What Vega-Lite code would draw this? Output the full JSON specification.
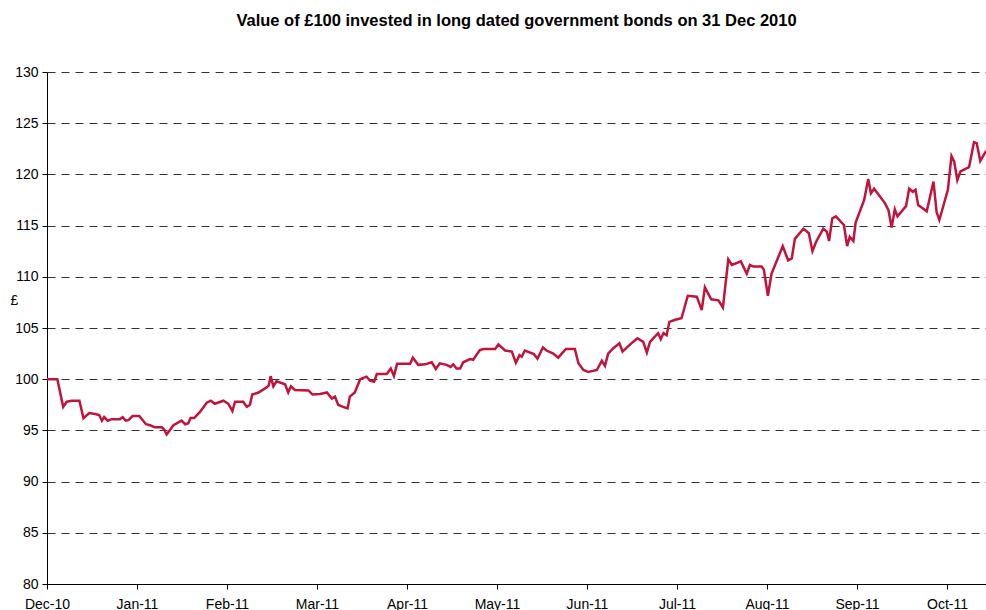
{
  "$schema": "https://vega.github.io/schema/vega-lite/v6.json",
  "autosize": {"type": "none"},
  "width": 939,
  "height": 512,
  "padding": {"left": 47, "top": 72, "right": 0, "bottom": 26},
  "background": "white",
  "title": {
    "text": "Value of £100 invested in long dated government bonds on 31 Dec 2010",
    "font": "Liberation Sans",
    "fontSize": 16.5,
    "fontWeight": "bold",
    "color": "#000000",
    "anchor": "middle",
    "offset": 36
  },
  "config": {
    "view": {"stroke": null},
    "axis": {"labelFont": "Liberation Sans", "titleFont": "Liberation Sans", "labelColor": "#000000", "titleColor": "#000000"}
  },
  "data": {
    "values": [
      {"day": 0, "value": 100.0},
      {"day": 2.3, "value": 100.0},
      {"day": 3.6, "value": 97.3},
      {"day": 4.4, "value": 97.8},
      {"day": 5.5, "value": 97.9},
      {"day": 7.2, "value": 97.9},
      {"day": 8.1, "value": 96.2},
      {"day": 9.4, "value": 96.7},
      {"day": 10.7, "value": 96.6},
      {"day": 11.6, "value": 96.5},
      {"day": 12.2, "value": 95.95},
      {"day": 12.7, "value": 96.3},
      {"day": 13.5, "value": 95.95},
      {"day": 14.4, "value": 96.1},
      {"day": 16.2, "value": 96.1},
      {"day": 16.8, "value": 96.3},
      {"day": 17.5, "value": 95.95},
      {"day": 18.1, "value": 96.0},
      {"day": 19.0, "value": 96.4},
      {"day": 20.5, "value": 96.4},
      {"day": 22.0, "value": 95.6},
      {"day": 22.9, "value": 95.5},
      {"day": 24.0, "value": 95.3},
      {"day": 25.5, "value": 95.3},
      {"day": 26.0, "value": 95.1},
      {"day": 26.6, "value": 94.6},
      {"day": 28.1, "value": 95.5},
      {"day": 29.9, "value": 95.95},
      {"day": 30.7, "value": 95.6},
      {"day": 31.4, "value": 95.7},
      {"day": 31.9, "value": 96.2},
      {"day": 32.7, "value": 96.2},
      {"day": 34.0, "value": 96.8},
      {"day": 35.5, "value": 97.7},
      {"day": 36.4, "value": 97.9},
      {"day": 37.3, "value": 97.6},
      {"day": 39.2, "value": 97.9},
      {"day": 40.3, "value": 97.6},
      {"day": 41.2, "value": 96.9},
      {"day": 41.8, "value": 97.8},
      {"day": 43.6, "value": 97.8},
      {"day": 44.4, "value": 97.3},
      {"day": 45.1, "value": 97.5},
      {"day": 45.6, "value": 98.5},
      {"day": 47.0, "value": 98.7},
      {"day": 48.8, "value": 99.2},
      {"day": 49.3, "value": 99.4},
      {"day": 49.7, "value": 100.3},
      {"day": 50.3, "value": 99.3},
      {"day": 51.0, "value": 99.8},
      {"day": 52.9, "value": 99.5},
      {"day": 53.6, "value": 98.7},
      {"day": 54.2, "value": 99.3},
      {"day": 55.1, "value": 98.95},
      {"day": 58.1, "value": 98.9},
      {"day": 59.0, "value": 98.5},
      {"day": 60.7, "value": 98.55},
      {"day": 62.2, "value": 98.7},
      {"day": 63.3, "value": 98.1},
      {"day": 64.0, "value": 98.3},
      {"day": 64.7, "value": 97.5},
      {"day": 65.8, "value": 97.3},
      {"day": 66.8, "value": 97.15},
      {"day": 67.3, "value": 98.3},
      {"day": 68.4, "value": 98.7},
      {"day": 69.6, "value": 100.0},
      {"day": 71.0, "value": 100.25},
      {"day": 71.8, "value": 99.85},
      {"day": 72.7, "value": 99.75},
      {"day": 73.3, "value": 100.5},
      {"day": 75.5, "value": 100.5},
      {"day": 76.4, "value": 101.05},
      {"day": 77.1, "value": 100.3},
      {"day": 77.8, "value": 101.5},
      {"day": 80.7, "value": 101.5},
      {"day": 81.3, "value": 102.1},
      {"day": 82.5, "value": 101.4},
      {"day": 84.0, "value": 101.45},
      {"day": 85.5, "value": 101.65},
      {"day": 86.4, "value": 101.0},
      {"day": 87.3, "value": 101.55},
      {"day": 88.8, "value": 101.4},
      {"day": 89.7, "value": 101.2},
      {"day": 90.3, "value": 101.45},
      {"day": 91.0, "value": 101.05},
      {"day": 91.8, "value": 101.05},
      {"day": 92.5, "value": 101.65},
      {"day": 94.0, "value": 101.97},
      {"day": 94.7, "value": 101.9},
      {"day": 96.2, "value": 102.85},
      {"day": 97.0, "value": 102.95},
      {"day": 99.6, "value": 102.95},
      {"day": 100.3, "value": 103.4},
      {"day": 101.8, "value": 102.8},
      {"day": 103.3, "value": 102.7},
      {"day": 104.2, "value": 101.6},
      {"day": 105.0, "value": 102.35},
      {"day": 105.5, "value": 102.2},
      {"day": 106.2, "value": 102.8},
      {"day": 108.2, "value": 102.45},
      {"day": 109.0, "value": 102.0},
      {"day": 110.2, "value": 103.1},
      {"day": 111.0, "value": 102.8},
      {"day": 112.5, "value": 102.5},
      {"day": 113.6, "value": 102.1},
      {"day": 115.3, "value": 102.95},
      {"day": 117.3, "value": 102.95},
      {"day": 118.1, "value": 101.55},
      {"day": 119.2, "value": 100.9},
      {"day": 120.3, "value": 100.7},
      {"day": 122.2, "value": 100.9},
      {"day": 123.3, "value": 101.8},
      {"day": 124.0, "value": 101.3},
      {"day": 124.7, "value": 102.5},
      {"day": 125.8, "value": 103.0},
      {"day": 127.2, "value": 103.5},
      {"day": 127.9, "value": 102.7},
      {"day": 129.6, "value": 103.4},
      {"day": 131.2, "value": 104.0},
      {"day": 132.5, "value": 103.65},
      {"day": 133.3, "value": 102.6},
      {"day": 134.0, "value": 103.65},
      {"day": 135.8, "value": 104.5},
      {"day": 136.4, "value": 103.9},
      {"day": 137.0, "value": 104.5},
      {"day": 137.7, "value": 104.3},
      {"day": 138.3, "value": 105.6},
      {"day": 139.6, "value": 105.8},
      {"day": 141.0, "value": 105.95},
      {"day": 142.4, "value": 108.15},
      {"day": 144.4, "value": 108.06},
      {"day": 145.5, "value": 106.75},
      {"day": 146.2, "value": 108.97},
      {"day": 147.6, "value": 107.8},
      {"day": 149.2, "value": 107.7},
      {"day": 150.2, "value": 107.0},
      {"day": 151.4, "value": 111.7},
      {"day": 152.2, "value": 111.15},
      {"day": 154.2, "value": 111.5},
      {"day": 155.5, "value": 110.3},
      {"day": 156.2, "value": 111.15},
      {"day": 157.0, "value": 111.0},
      {"day": 158.8, "value": 111.0},
      {"day": 159.3, "value": 110.7},
      {"day": 160.2, "value": 108.15},
      {"day": 161.0, "value": 110.3},
      {"day": 163.5, "value": 113.0},
      {"day": 164.7, "value": 111.6},
      {"day": 165.5, "value": 111.8},
      {"day": 166.2, "value": 113.7},
      {"day": 168.1, "value": 114.7},
      {"day": 169.3, "value": 114.25},
      {"day": 170.1, "value": 112.5},
      {"day": 170.9, "value": 113.4},
      {"day": 172.5, "value": 114.7},
      {"day": 173.3, "value": 114.4},
      {"day": 173.8, "value": 113.5},
      {"day": 174.5, "value": 115.7},
      {"day": 175.3, "value": 115.9},
      {"day": 177.1, "value": 115.06},
      {"day": 177.8, "value": 113.0},
      {"day": 178.4, "value": 113.9},
      {"day": 179.2, "value": 113.5},
      {"day": 179.7, "value": 115.3},
      {"day": 181.6, "value": 117.5},
      {"day": 182.5, "value": 119.55},
      {"day": 183.1, "value": 118.15},
      {"day": 183.8, "value": 118.6},
      {"day": 186.2, "value": 117.2},
      {"day": 187.0, "value": 116.5},
      {"day": 187.7, "value": 114.8},
      {"day": 188.4, "value": 116.6},
      {"day": 189.0, "value": 115.9},
      {"day": 190.9, "value": 116.9},
      {"day": 191.6, "value": 118.6},
      {"day": 192.4, "value": 118.3},
      {"day": 193.0, "value": 118.5},
      {"day": 193.6, "value": 117.0},
      {"day": 195.5, "value": 116.4},
      {"day": 197.0, "value": 119.3},
      {"day": 197.7, "value": 116.3},
      {"day": 198.3, "value": 115.55},
      {"day": 200.2, "value": 118.5},
      {"day": 201.0, "value": 121.8},
      {"day": 201.6, "value": 121.25},
      {"day": 202.3, "value": 119.45},
      {"day": 203.0, "value": 120.3},
      {"day": 204.9, "value": 120.7},
      {"day": 206.0, "value": 123.15},
      {"day": 206.6, "value": 123.05},
      {"day": 207.4, "value": 121.3},
      {"day": 208.7, "value": 122.3}
    ]
  },
  "mark": {"type": "line", "color": "#C0143C", "strokeWidth": 2.5, "clip": true},
  "encoding": {
    "x": {
      "field": "day",
      "type": "quantitative",
      "scale": {"domain": [0, 208.67], "nice": false, "zero": false},
      "axis": {
        "title": null,
        "values": [0, 20, 40, 60, 80, 100, 120, 140, 160, 180, 200],
        "labelExpr": "['Dec-10','Jan-11','Feb-11','Mar-11','Apr-11','May-11','Jun-11','Jul-11','Aug-11','Sep-11','Oct-11'][round(datum.value/20)]",
        "grid": false,
        "domainColor": "#000000",
        "domainWidth": 1,
        "tickColor": "#000000",
        "tickSize": 5,
        "labelPadding": 8,
        "labelFontSize": 14,
        "labelBaseline": "top",
        "labelFlush": false,
        "labelOverlap": false
      }
    },
    "y": {
      "field": "value",
      "type": "quantitative",
      "scale": {"domain": [80, 130], "nice": false, "zero": false},
      "axis": {
        "title": "£",
        "titleAngle": 0,
        "titleX": -33,
        "titleY": 228,
        "titleAlign": "center",
        "titleBaseline": "middle",
        "titleFontSize": 14,
        "titleFontWeight": "normal",
        "values": [80, 85, 90, 95, 100, 105, 110, 115, 120, 125, 130],
        "grid": true,
        "gridColor": "#333333",
        "gridDash": [8, 6],
        "gridWidth": 1.2,
        "domainColor": "#000000",
        "domainWidth": 1,
        "tickColor": "#000000",
        "tickSize": 5,
        "labelPadding": 4,
        "labelFontSize": 14,
        "labelFlush": false
      }
    }
  }
}
